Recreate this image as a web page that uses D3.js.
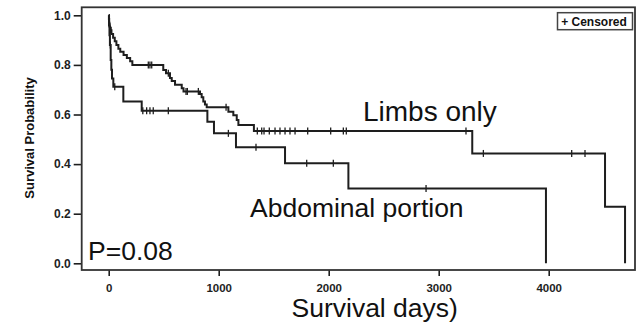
<!DOCTYPE html>
<html>
<head>
<meta charset="utf-8">
<script src="https://cdn.jsdelivr.net/npm/d3@7/dist/d3.min.js"></script>
<style>
  body { margin: 0; background: #fff; }
  svg { display: block; font-family: "Liberation Sans", Arial, sans-serif; }
</style>
</head>
<body>
<div id="chart"></div>
<script>
// Kaplan-Meier steps: [day, survival after the drop]
const limbsSteps = [
  [0, 1], [2, 0.985], [4, 0.97], [7, 0.955], [12, 0.94], [25, 0.925], [40, 0.91],
  [55, 0.895], [70, 0.88], [88, 0.865], [105, 0.853], [135, 0.84], [165, 0.828],
  [195, 0.815], [215, 0.80], [496, 0.779], [521, 0.766], [557, 0.747], [573, 0.735],
  [603, 0.72], [664, 0.706], [680, 0.693], [830, 0.683], [845, 0.67], [860, 0.652],
  [875, 0.64], [891, 0.629], [1088, 0.611], [1133, 0.597], [1164, 0.578], [1179, 0.558],
  [1320, 0.533], [3305, 0.443], [4512, 0.228], [4694, 0]
]
const limbsCensored = [10, 16, 22, 360, 375, 391, 542, 703, 715, 815, 1067, 1351, 1391,
  1412, 1460, 1512, 1557, 1603, 1648, 1694, 1809, 2018, 2133, 2160, 3248, 3406, 4209, 4330]

const abdSteps = [
  [0, 1], [3, 0.96], [7, 0.92], [11, 0.88], [18, 0.82], [24, 0.78], [30, 0.745],
  [42, 0.712], [133, 0.652], [300, 0.615], [897, 0.571], [957, 0.524], [1157, 0.468],
  [1603, 0.403], [2179, 0.302], [3975, 0]
]
const abdCensored = [15, 55, 310, 345, 375, 405, 542, 1088, 1339, 1800, 2042, 2885]

const xTicks = [0, 1000, 2000, 3000, 4000]
const yTicks = [0, 0.2, 0.4, 0.6, 0.8, 1.0]

const W = 637, H = 326
const frame = {left: 81.7, right: 635, top: 7.3, bottom: 270}

const x = d3.scaleLinear().domain([-245.5, 4784.5]).range([frame.left, frame.right])
const y = d3.scaleLinear().domain([-0.027, 1.0323]).range([frame.bottom, frame.top])

const svg = d3.select('#chart').append('svg')
  .attr('width', W)
  .attr('height', H)

const ink = '#1e1e1e'

// y axis
const yAxis = svg.append('g')
  .attr('transform', `translate(${frame.left},0)`)
  .call(d3.axisLeft(y).tickValues(yTicks).tickFormat(d3.format('.1f')).tickSize(8).tickPadding(3))
yAxis.select('.domain').remove()
yAxis.selectAll('line').attr('stroke', ink).attr('stroke-width', 1.6)
yAxis.selectAll('text')
  .attr('fill', ink)
  .style('font-size', '12px')
  .style('font-weight', 'bold')

// x axis
const xAxis = svg.append('g')
  .attr('transform', `translate(0,${frame.bottom})`)
  .call(d3.axisBottom(x).tickValues(xTicks).tickFormat(d3.format('d')).tickSize(6).tickPadding(8))
xAxis.select('.domain').remove()
xAxis.selectAll('line').attr('stroke', ink).attr('stroke-width', 1.6)
xAxis.selectAll('text')
  .attr('fill', ink)
  .style('font-size', '11.5px')
  .style('font-weight', 'bold')

// frame
svg.append('rect')
  .attr('x', frame.left)
  .attr('y', frame.top)
  .attr('width', frame.right - frame.left)
  .attr('height', frame.bottom - frame.top)
  .attr('fill', 'none')
  .attr('stroke', '#333')
  .attr('stroke-width', 1.8)

// survival curves
const line = d3.line()
  .x(d => x(d[0]))
  .y(d => y(d[1]))
  .curve(d3.curveStepAfter)

const survAt = (steps, t) => {
  let s = steps[0][1]
  for (const st of steps) { if (st[0] <= t) s = st[1] }
  return s
}

const series = [
  {steps: limbsSteps, cens: limbsCensored},
  {steps: abdSteps, cens: abdCensored}
]

series.forEach(s => {
  svg.append('path')
    .datum(s.steps)
    .attr('d', line)
    .attr('fill', 'none')
    .attr('stroke', ink)
    .attr('stroke-width', 2)

  svg.selectAll(null)
    .data(s.cens)
    .enter().append('line')
      .attr('x1', d => x(d))
      .attr('x2', d => x(d))
      .attr('y1', d => y(survAt(s.steps, d)) - 3.5)
      .attr('y2', d => y(survAt(s.steps, d)) + 3.5)
      .attr('stroke', ink)
      .attr('stroke-width', 1.3)
})

// legend
svg.append('rect')
  .attr('x', 557.5)
  .attr('y', 12.7)
  .attr('width', 75)
  .attr('height', 17)
  .attr('fill', '#fff')
  .attr('stroke', '#444')
  .attr('stroke-width', 1.5)
svg.append('text')
  .attr('x', 594)
  .attr('y', 25.5)
  .attr('text-anchor', 'middle')
  .attr('fill', '#111')
  .style('font-size', '12px')
  .style('font-weight', 'bold')
  .text('+ Censored')

// annotations
const big = (txt, px, py, size) => svg.append('text')
  .attr('x', px)
  .attr('y', py)
  .attr('fill', '#111')
  .style('font-size', size + 'px')
  .text(txt)

big('Limbs only', 363, 120.7, 28)
big('Abdominal portion', 250, 216.7, 26.5)
big('P=0.08', 88, 260, 26.5)
big('Survival days)', 291.5, 317, 26.5)

// y axis title
svg.append('text')
  .attr('transform', 'translate(34,138) rotate(-90)')
  .attr('text-anchor', 'middle')
  .attr('fill', '#111')
  .style('font-size', '13px')
  .style('font-weight', 'bold')
  .text('Survival Probability')
</script>
</body>
</html>
